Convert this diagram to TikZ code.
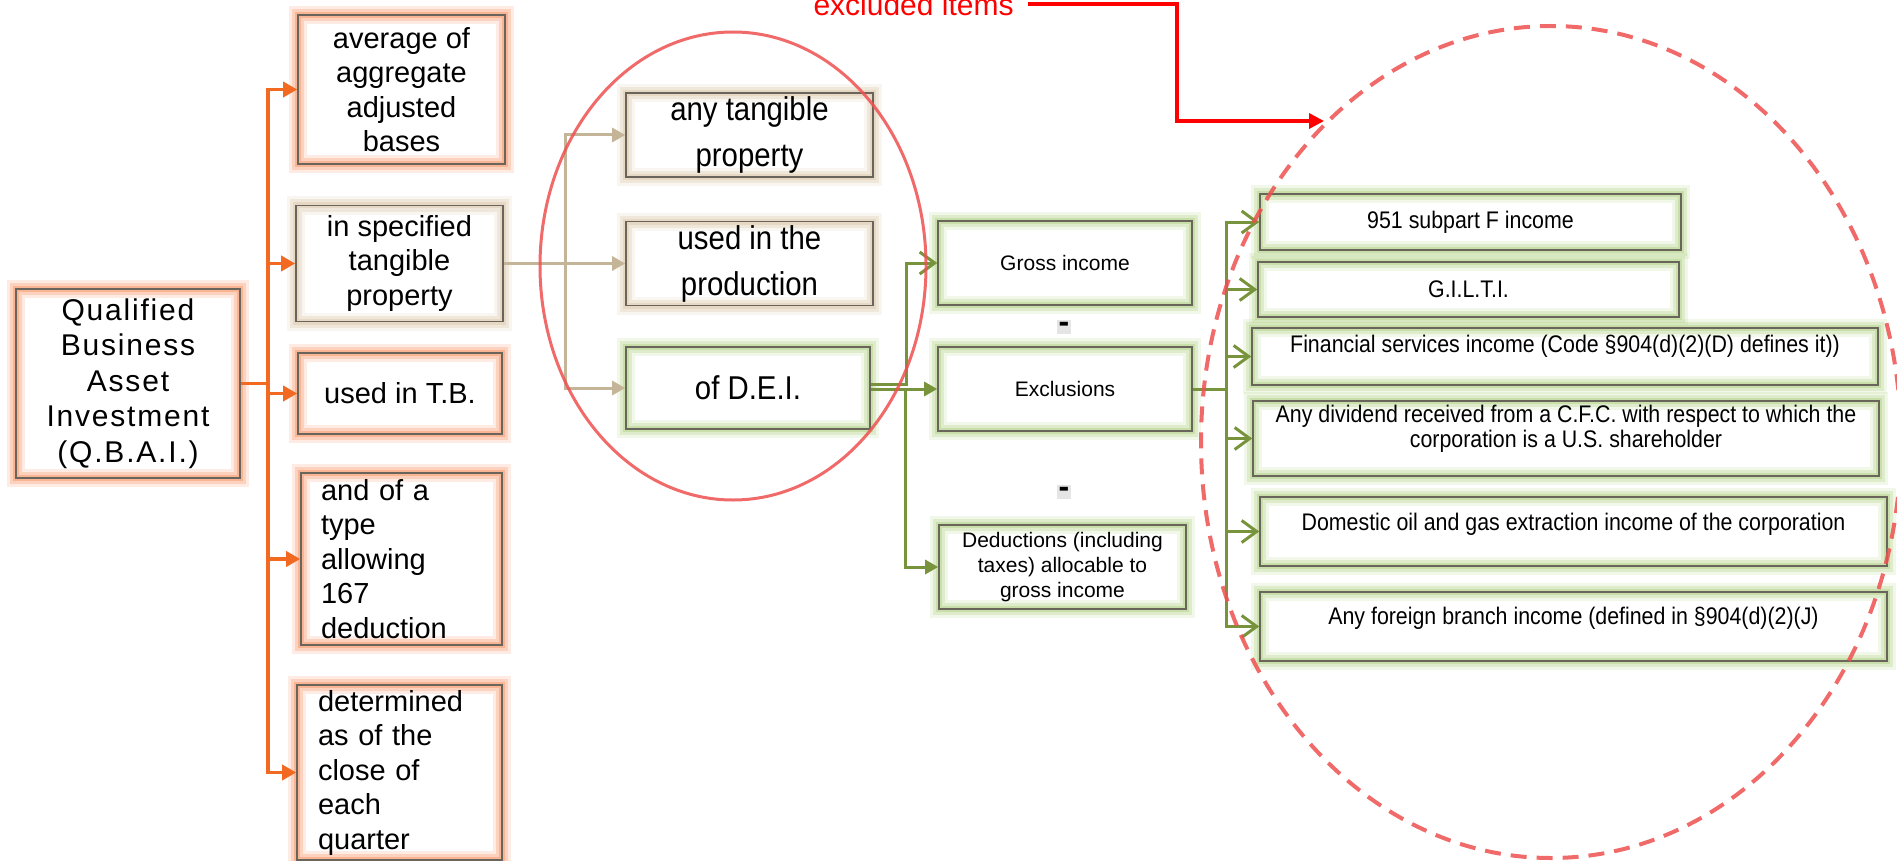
\documentclass[tikz,border=0pt]{standalone}
\usepackage{fontspec}
\setmainfont{Liberation Sans}
\newfontfamily\narrowfont[FakeStretch=0.89]{Liberation Sans}
\newfontfamily\spacedfont[LetterSpace=6.0]{Liberation Sans}
\usepackage{tikz}
\usetikzlibrary{arrows.meta,positioning}

\definecolor{qorange}{RGB}{242,106,33}
\definecolor{qtan}{RGB}{196,181,152}
\definecolor{qgreen}{RGB}{119,147,60}
\definecolor{glowor}{RGB}{247,150,105}
\definecolor{glowtan}{RGB}{220,200,170}
\definecolor{glowgr}{RGB}{180,210,135}
\definecolor{boxedge}{RGB}{105,100,92}
\definecolor{ringred}{RGB}{238,80,80}

\begin{document}
\begin{tikzpicture}[x=1pt,y=-1pt,
  qbox/.style={draw=boxedge, line width=1.6pt, inner sep=0pt, align=center,
    preaction={draw=#1, line width=18pt, draw opacity=0.18},
    preaction={draw=#1, line width=12pt, draw opacity=0.3},
    preaction={draw=#1, line width=6pt, draw opacity=0.5}},
  bigtext/.style={font=\fontsize{29pt}{34.5pt}\selectfont},
  narrowtext/.style={font=\narrowfont\fontsize{33pt}{46pt}\selectfont},
  smalltext/.style={font=\fontsize{21pt}{25pt}\selectfont},
  listtext/.style={font=\narrowfont\fontsize{24pt}{25pt}\selectfont},
  minusmark/.style={fill=black!10, inner sep=1.5pt, text height=11pt, text depth=0pt,
    font=\fontsize{32pt}{32pt}\selectfont\bfseries},
  oline/.style={draw=qorange, line width=3.5pt, -{Triangle[length=14pt,width=15pt]}},
  tline/.style={draw=qtan, line width=3pt, -{Triangle[length=13pt,width=14pt]}},
  gline/.style={draw=qgreen, line width=3pt, -{Triangle[length=13pt,width=14pt]}},
  gopen/.style={draw=qgreen, line width=3pt, -{Straight Barb[length=15pt,width=22pt]}},
  redline/.style={draw=red, line width=3.5pt, -{Triangle[length=15pt,width=15pt]}},
  ring/.style={draw=ringred, line width=3pt, draw opacity=0.85},
  dashring/.style={ring, line width=4pt, dash pattern=on 16pt off 10pt}]
\useasboundingbox (0,0) rectangle (1897,861);

\node[qbox=glowor, minimum width=224pt, minimum height=189pt,
  font=\spacedfont\fontsize{30pt}{35.5pt}\selectfont] (qbai) at (128,383.5)
  {Qualified\\Business\\Asset\\Investment\\(Q.B.A.I.)};

\node[qbox=glowor, bigtext, minimum width=207pt, minimum height=149pt] (avg) at (401.5,89.5)
  {average of\\aggregate\\adjusted\\bases};
\node[qbox=glowtan, bigtext, minimum width=207pt, minimum height=116pt] (spec) at (399.5,263.5)
  {in specified\\tangible\\property};
\node[qbox=glowor, bigtext, minimum width=204pt, minimum height=81pt] (tb) at (400,393.5)
  {used in T.B.};
\node[qbox=glowor, bigtext, minimum width=201pt, minimum height=172pt,
  text width=161pt, align=left] (type) at (401.5,559)
  {and of a\\type\\allowing\\167\\deduction};
\node[qbox=glowor, bigtext, minimum width=205pt, minimum height=175pt,
  text width=163pt, align=left] (det) at (399.5,772.5)
  {determined\\as of the\\close of\\each\\quarter};

\node[qbox=glowtan, narrowtext, minimum width=247pt, minimum height=84pt] (anyt) at (749.5,135)
  {any tangible\\property};
\node[qbox=glowtan, narrowtext, minimum width=247pt, minimum height=84pt] (prod) at (749.5,263.5)
  {used in the\\production};
\node[qbox=glowgr, narrowtext, minimum width=244pt, minimum height=82pt] (dei) at (748,388)
  {of D.E.I.};

\node[qbox=glowgr, smalltext, minimum width=254pt, minimum height=84pt] (gross) at (1065,263)
  {Gross income};
\node[qbox=glowgr, smalltext, minimum width=254pt, minimum height=84pt] (excl) at (1065,389)
  {Exclusions};
\node[qbox=glowgr, smalltext, minimum width=247pt, minimum height=84pt] (ded) at (1062.5,567)
  {Deductions (including\\taxes) allocable to\\gross income};
\node[minusmark] (minA) at (1064,327) {-};
\node[minusmark] (minB) at (1064,492) {-};

\node[qbox=glowgr, listtext, minimum width=421pt, minimum height=56pt] (f951) at (1470.5,222)
  {951 subpart F income};
\node[qbox=glowgr, listtext, minimum width=421pt, minimum height=55pt] (gilti) at (1468.5,289.5)
  {G.I.L.T.I.};
\node[qbox=glowgr, listtext] (fin) at (1565,356.5)
  {\parbox[c][57pt][t]{626pt}{\centering\vspace*{7pt}Financial services income (Code §904(d)(2)(D) defines it))}};
\node[qbox=glowgr, listtext] (div) at (1566,438.5)
  {\parbox[c][75pt][t]{626pt}{\centering\vspace*{4pt}Any dividend received from a C.F.C. with respect to which the\\corporation is a U.S. shareholder}};
\node[qbox=glowgr, listtext] (dom) at (1573.5,531.5)
  {\parbox[c][69pt][t]{627pt}{\centering\vspace*{16pt}Domestic oil and gas extraction income of the corporation}};
\node[qbox=glowgr, listtext] (forn) at (1573.5,626.5)
  {\parbox[c][69pt][t]{627pt}{\centering\vspace*{15pt}Any foreign branch income (defined in §904(d)(2)(J)}};

\coordinate (qfork) at (268,383.5);
\foreach \b in {avg,spec,tb,type,det}
  \draw[oline] (qbai.east) -- (qfork) |- (\b.west);

\coordinate (tfork) at (565,263.5);
\foreach \b in {anyt,prod,dei}
  \draw[tline] (spec.east) -- (tfork) |- (\b.west);

\draw[gopen] ([yshift=4pt]dei.east) -- ++(36,0) |- (gross.west);
\draw[gline] (dei.east |- excl.west) -- (excl.west);
\draw[gline] (dei.east |- excl.west) -- ++(35,0) |- (ded.west);

\coordinate (gfork) at (1226,389);
\foreach \b in {f951,gilti,fin,div,dom,forn}
  \draw[gopen] (excl.east) -- (gfork) |- (\b.west);

\draw[ring] (733,266) ellipse [x radius=193pt, y radius=234pt];
\draw[dashring] (1551,442) ellipse [x radius=350pt, y radius=416pt];

\node[text=red, anchor=base west, font=\fontsize{30pt}{30pt}\selectfont] (exclnote) at (810,16)
  {excluded items};
\coordinate (exclaim) at (1324,121);
\draw[redline] ([xshift=11pt,yshift=1.5pt]exclnote.east) -- ++(149,0) |- (exclaim);
\end{tikzpicture}
\end{document}
